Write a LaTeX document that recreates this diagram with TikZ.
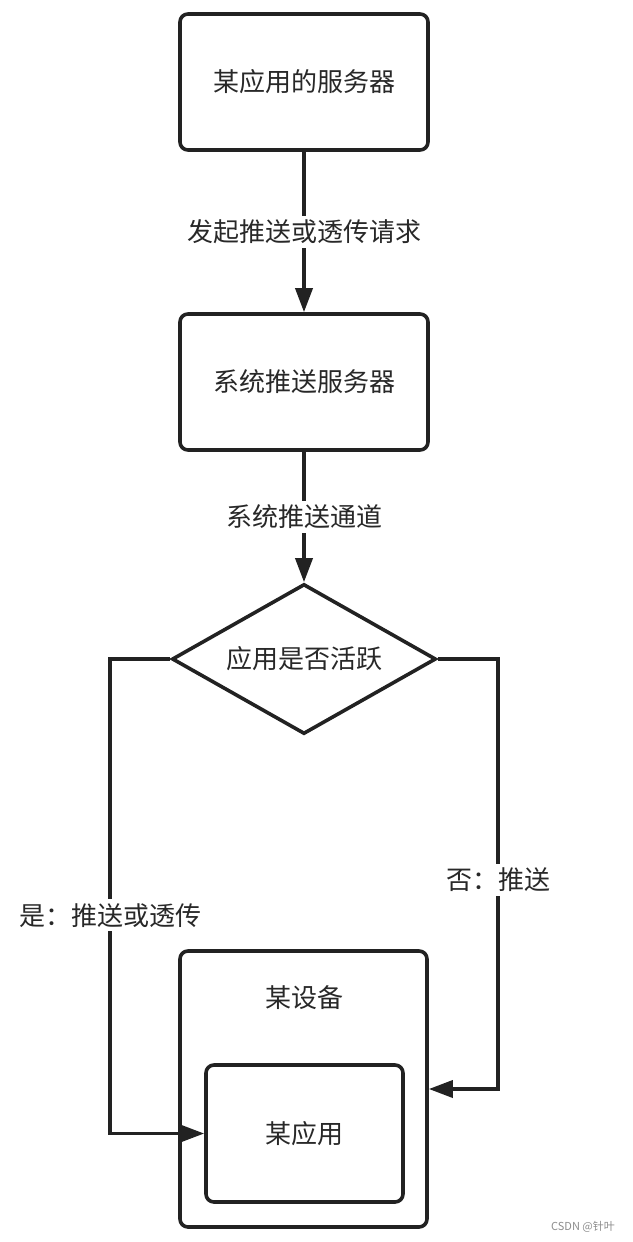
\documentclass[tikz,border=0pt]{standalone}
\usepackage{fontspec}
\usetikzlibrary{positioning,shapes.geometric,arrows.meta}
\newfontfamily\cjk{Noto Sans CJK SC}
\definecolor{linegray}{RGB}{34,34,34}
\definecolor{textgray}{RGB}{40,40,40}
\tikzset{
  srvbox/.style = {draw=linegray, line width=1.8pt, rounded corners=4pt,
                   minimum width=124pt, minimum height=68pt, inner sep=0pt,
                   font=\cjk\fontsize{13}{15}\selectfont, text=textgray},
  decide/.style = {diamond, draw=linegray, line width=1.8pt, aspect=1.74,
                   minimum width=132pt, minimum height=75pt, inner sep=0pt,
                   font=\cjk\fontsize{13}{15}\selectfont, text=textgray},
  txt/.style    = {font=\cjk\fontsize{13}{15}\selectfont, text=textgray},
  lbl/.style    = {txt, fill=white, inner sep=2pt},
  link/.style   = {draw=linegray, line width=1.8pt,
                   -{Triangle[length=12pt, width=8.5pt]}},
}

\begin{document}
\begin{tikzpicture}[x=0.5pt, y=-0.5pt]
  \useasboundingbox (0,0) rectangle (632,1242);

  \node[srvbox] (appsrv)  at (304,82)  {某应用的服务器};
  \node[srvbox] (pushsrv) at (304,382) {系统推送服务器};
  \node[decide] (active)  at (304,659) {应用是否活跃};

  % device with the app inside
  \node[srvbox, minimum width=123.5pt, minimum height=138pt] (dev) at (303.5,1089) {};
  \node[txt] (devlbl) at (304,998) {某设备};
  \node[srvbox, minimum width=98.5pt, minimum height=68.5pt] (app) at (304.5,1133.5) {某应用};

  \coordinate (yescorner) at (110,659);
  \coordinate (nocorner)  at (498,659);

  \draw[link] (appsrv) -- node[lbl] {发起推送或透传请求} (pushsrv);
  \draw[link] (pushsrv) -- node[lbl] {系统推送通道} (active);
  \draw[link] (active.west) -- (yescorner) |- node[lbl, pos=0.27] {是：推送或透传} (app.west);
  \draw[link] (active.east) -- (nocorner) |- node[lbl, pos=0.257] {否：推送} (dev.east);

  \node[font=\cjk\fontsize{5.5}{6}\selectfont, text=black!45] (mark) at (583,1227) {CSDN @针叶};
\end{tikzpicture}
\end{document}
